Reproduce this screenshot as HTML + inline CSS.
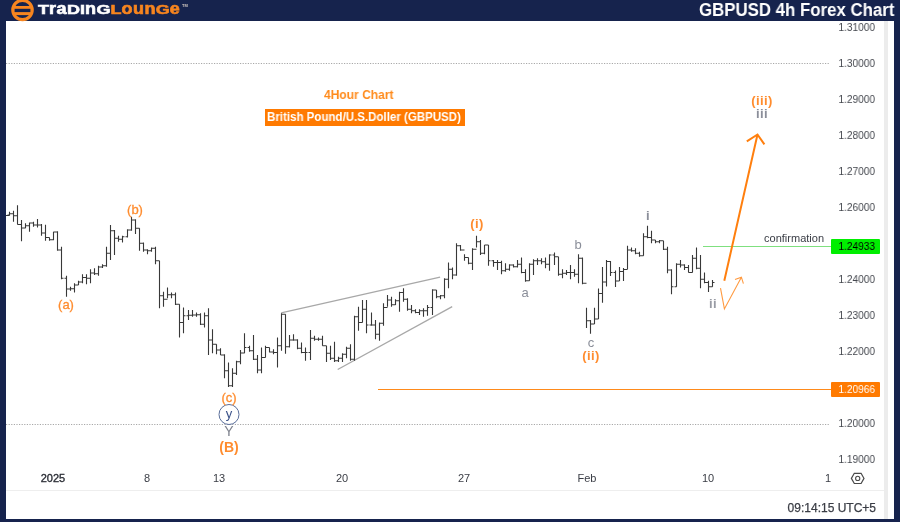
<!DOCTYPE html>
<html><head><meta charset="utf-8">
<style>
*{margin:0;padding:0;box-sizing:border-box}
html,body{width:900px;height:522px;overflow:hidden;background:#16234d;font-family:"Liberation Sans",sans-serif}
body>div{will-change:transform}
#panel{position:absolute;left:6px;top:21px;width:888px;height:498px;background:#fff}
#strip{position:absolute;left:884px;top:21px;width:4px;height:498px;background:#ececec}
#sep{position:absolute;left:6px;top:490px;width:878px;height:1px;background:#eeeeee}
.abs{position:absolute}
.pl{position:absolute;left:800px;width:75px;text-align:right;font-size:11px;color:#44474e;line-height:14px;transform:scaleX(0.92);transform-origin:75px 0}
.tl{position:absolute;top:471px;width:60px;text-align:center;font-size:11px;color:#3a3d45;line-height:14px}
.tl.b{-webkit-text-stroke:0.35px currentColor;color:#2a2d35}
#title{position:absolute;left:699px;top:0px;font-size:18px;font-weight:bold;color:#fff;line-height:20px;white-space:nowrap;transform:scaleX(0.935);transform-origin:0 0}
#logo{position:absolute;left:38px;top:3px;font-size:12px;font-weight:bold;color:#fff;line-height:14px;white-space:nowrap;transform:scaleX(1.5);transform-origin:0 0;-webkit-text-stroke:0.5px currentColor}
#logo span{color:#f7851f}
#logo i{font-style:normal;display:inline-block;transform:scaleY(1.3);transform-origin:0 11px;letter-spacing:0.3px}
.lbl{position:absolute;text-align:center;width:60px;font-size:13px;line-height:14px;font-weight:bold;letter-spacing:0.4px}
.or{color:#ff8c2e}
.gr{color:#8a8e99}
.nw{font-weight:normal;letter-spacing:0}
.sb{-webkit-text-stroke:0.3px currentColor}
</style></head><body>
<div id="panel"></div>
<div id="strip"></div>
<div id="sep"></div>
<svg class="abs" style="left:0;top:0" width="900" height="22">
  <circle cx="22.5" cy="10" r="9.7" fill="none" stroke="#f7851f" stroke-width="3.2"/>
  <rect x="13" y="6" width="19" height="9.1" fill="#f7851f"/>
  <rect x="14.6" y="8.8" width="15.8" height="3.3" fill="#16234d"/>
</svg>
<div id="logo">T<i>r</i><i>a</i>DI<i>n</i>G<span>L<i>o</i><i>u</i><i>n</i>G<i>e</i></span></div><div class="abs" style="left:182px;top:4px;font-size:4px;line-height:4px;color:#d0c8c0;font-weight:bold">TM</div>
<div id="title">GBPUSD 4h Forex Chart</div>
<div class="pl" style="top:20px">1.31000</div><div class="pl" style="top:56px">1.30000</div><div class="pl" style="top:92px">1.29000</div><div class="pl" style="top:128px">1.28000</div><div class="pl" style="top:164px">1.27000</div><div class="pl" style="top:200px">1.26000</div><div class="pl" style="top:272px">1.24000</div><div class="pl" style="top:308px">1.23000</div><div class="pl" style="top:344px">1.22000</div><div class="pl" style="top:416px">1.20000</div><div class="pl" style="top:452px">1.19000</div>
<div class="tl b" style="left:23px">2025</div><div class="tl" style="left:117px">8</div><div class="tl" style="left:189px">13</div><div class="tl" style="left:312px">20</div><div class="tl" style="left:434px">27</div><div class="tl" style="left:557px">Feb</div><div class="tl" style="left:678px">10</div><div class="tl" style="left:798px">1</div>
<svg class="abs" style="left:0;top:0" width="900" height="522">
  <line x1="6" y1="63.5" x2="829" y2="63.5" stroke="#a8a8a8" stroke-width="1" stroke-dasharray="1.2 1.4"/>
  <line x1="6" y1="424.5" x2="829" y2="424.5" stroke="#a8a8a8" stroke-width="1" stroke-dasharray="1.2 1.4"/>
  <line x1="703" y1="246.5" x2="831" y2="246.5" stroke="#7fe07f" stroke-width="1"/>
  <line x1="378" y1="389.5" x2="831" y2="389.5" stroke="#ff8a1a" stroke-width="1"/>
  <line x1="281.2" y1="312.9" x2="440.1" y2="277.2" stroke="#a8a8a8" stroke-width="1.3"/>
  <line x1="337.7" y1="369.5" x2="452.2" y2="306.6" stroke="#a8a8a8" stroke-width="1.3"/>
  <path d="M6 215.5H9M9.5 211.7V215.8M7.5 215H9.5M9.5 213.7H11.5M13.5 210.8V221.7M11.5 213.7H13.5M13.5 215.8H15.5M17.5 205.3V224.5M15.5 215.8H17.5M17.5 224.5H19.5M21.5 220V241.3M19.5 224.5H21.5M21.5 228H23.5M25.5 223.3V228.3M23.5 228H25.5M25.5 225.8H27.5M29.5 222.5V231.7M27.5 225.8H29.5M29.5 223H31.5M33.5 221.7V226.7M31.5 223H33.5M33.5 225H35.5M37.5 219V227.5M35.5 225H37.5M37.5 225H39.5M41.5 224V235.8M39.5 225H41.5M41.5 233H43.5M45.5 224.7V240.8M43.5 233H45.5M45.5 237.5H47.5M49.5 237.5V240.8M47.5 237.5H49.5M49.5 239.7H51.5M53.5 231.7V240.3M51.5 239.7H53.5M53.5 232H55.5M57.5 231.3V250.8M55.5 232H57.5M57.5 250H59.5M61.5 246.7V279.2M59.5 250H61.5M61.5 278.3H63.5M66.5 275.8V296.7M64.5 278.3H66.5M66.5 289H68.5M70.5 286.7V290.8M68.5 289H70.5M70.5 288.7H72.5M74.5 283.3V292.5M72.5 288.7H74.5M74.5 285H76.5M78.5 280.8V285M76.5 285H78.5M78.5 282H80.5M82.5 274.2V283.3M80.5 282H82.5M82.5 277.5H84.5M86.5 274.2V284.2M84.5 277.5H86.5M86.5 278.3H88.5M90.5 269.2V283.3M88.5 278.3H90.5M90.5 273H92.5M94.5 268.3V275M92.5 273H94.5M94.5 273.7H96.5M98.5 265.8V275.8M96.5 273.7H98.5M98.5 267H100.5M102.5 264.2V268M100.5 267H102.5M102.5 265.8H104.5M106.5 246.7V266.7M104.5 265.8H106.5M106.5 253.3H108.5M110.5 225V260M108.5 253.3H110.5M110.5 230.8H112.5M114.5 230V255M112.5 230.8H114.5M114.5 238.3H116.5M118.5 235.8V241.7M116.5 238.3H118.5M118.5 239.2H120.5M122.5 235.8V242.5M120.5 239.2H122.5M122.5 236.7H124.5M127.5 229.2V237.5M125.5 236.7H127.5M127.5 230H129.5M131.5 216.7V230.8M129.5 230H131.5M131.5 220H133.5M135.5 219.2V234M133.5 220H135.5M135.5 228.3H137.5M139.5 228.3V250.8M137.5 228.3H139.5M139.5 243.3H141.5M143.5 242.5V251.7M141.5 243.3H143.5M143.5 250H145.5M147.5 249.2V254.2M145.5 250H147.5M147.5 250.8H149.5M151.5 247.5V251.7M149.5 250.8H151.5M151.5 248.3H153.5M155.5 246.7V264.2M153.5 248.3H155.5M155.5 260.8H157.5M159.5 260.8V308.3M157.5 260.8H159.5M159.5 295.8H161.5M163.5 291.7V306.7M161.5 295.8H163.5M163.5 299.2H165.5M167.5 287.5V298.3M165.5 299.2H167.5M167.5 294.7H169.5M171.5 292.5V298.3M169.5 294.7H171.5M171.5 294.7H173.5M175.5 292.5V305M173.5 294.7H175.5M175.5 304.2H177.5M179.5 304.2V337.5M177.5 304.2H179.5M179.5 322.5H181.5M183.5 307.5V333.3M181.5 322.5H183.5M183.5 315.8H185.5M188.5 310V320M186.5 315.8H188.5M188.5 315.3H190.5M192.5 310V316.7M190.5 315.3H192.5M192.5 315H194.5M196.5 312.5V316.7M194.5 315H196.5M196.5 314.7H198.5M200.5 313.3V325M198.5 314.7H200.5M200.5 324.2H202.5M204.5 312.5V327.5M202.5 324.2H204.5M204.5 315.8H206.5M208.5 308.3V355M206.5 315.8H208.5M208.5 340H210.5M212.5 329.2V353.3M210.5 340H212.5M212.5 344.2H214.5M216.5 344.2V354.2M214.5 344.2H216.5M216.5 350H218.5M220.5 348.3V355M218.5 350H220.5M220.5 355H222.5M224.5 354.2V378.3M222.5 355H224.5M224.5 370.8H226.5M228.5 362.5V387M226.5 370.8H228.5M228.5 385.8H230.5M232.5 368.3V387M230.5 385.8H232.5M232.5 373.3H234.5M236.5 360.8V375M234.5 373.3H236.5M236.5 361.7H238.5M240.5 350V364.2M238.5 361.7H240.5M240.5 353H242.5M244.5 333.3V353.3M242.5 353H244.5M244.5 347.5H246.5M249.5 345.8V351.7M247.5 347.5H249.5M249.5 350.8H251.5M253.5 335V360M251.5 350.8H253.5M253.5 359.2H255.5M257.5 355V373.3M255.5 359.2H257.5M257.5 370H259.5M261.5 347.5V373.3M259.5 370H261.5M261.5 357.5H263.5M265.5 345.8V357.5M263.5 357.5H265.5M265.5 347.5H267.5M269.5 347.5V352.5M267.5 347.5H269.5M269.5 352H271.5M273.5 349.2V354.2M271.5 352H273.5M273.5 352.5H275.5M277.5 337.5V367.5M275.5 352.5H277.5M277.5 345.8H279.5M281.5 313.3V350.8M279.5 345.8H281.5M281.5 314.2H283.5M285.5 314.2V353.7M283.5 314.2H285.5M285.5 346.7H287.5M289.5 335V347.5M287.5 346.7H289.5M289.5 340H291.5M293.5 334.2V340.8M291.5 340H293.5M293.5 340H295.5M297.5 339.2V349.2M295.5 340H297.5M297.5 348.3H299.5M301.5 342.5V353.3M299.5 348.3H301.5M301.5 352.5H303.5M305.5 347.5V360.8M303.5 352.5H305.5M305.5 352.5H307.5M310.5 330V360M308.5 352.5H310.5M310.5 338.3H312.5M314.5 335.8V340.8M312.5 338.3H314.5M314.5 339.2H316.5M318.5 337.5V340.8M316.5 339.2H318.5M318.5 339.2H320.5M322.5 335.8V345.8M320.5 339.2H322.5M322.5 345.8H324.5M326.5 345.8V362M324.5 345.8H326.5M326.5 353.3H328.5M330.5 345.8V360M328.5 353.3H330.5M330.5 358.3H332.5M334.5 341.7V362M332.5 358.3H334.5M334.5 360.8H336.5M338.5 356.7V362M336.5 360.8H338.5M338.5 358.3H340.5M342.5 353.3V362M340.5 358.3H342.5M342.5 354.2H344.5M346.5 346.7V358.3M344.5 354.2H346.5M346.5 348.3H348.5M350.5 344.2V360.8M348.5 348.3H350.5M350.5 359.2H352.5M354.5 315.8V360.8M352.5 359.2H354.5M354.5 316.7H356.5M358.5 306.7V330.8M356.5 316.7H358.5M358.5 322.5H360.5M362.5 300V322.5M360.5 322.5H362.5M362.5 309.2H364.5M366.5 300V333.3M364.5 309.2H366.5M366.5 325H368.5M371.5 312.5V325.8M369.5 325H371.5M371.5 325H373.5M375.5 320V339.2M373.5 325H375.5M375.5 334.2H377.5M379.5 322.5V340.8M377.5 334.2H379.5M379.5 323.3H381.5M383.5 303.3V325.8M381.5 323.3H383.5M383.5 307.5H385.5M387.5 295V306.7M385.5 307.5H387.5M387.5 300H389.5M391.5 296.7V306.7M389.5 300H391.5M391.5 304.7H393.5M395.5 299.2V305M393.5 304.7H395.5M395.5 300.8H397.5M399.5 291.7V311.7M397.5 300.8H399.5M399.5 292.5H401.5M403.5 288.3V301.7M401.5 292.5H403.5M403.5 299.2H405.5M407.5 298.3V310.8M405.5 299.2H407.5M407.5 309.2H409.5M411.5 305V313.3M409.5 309.2H411.5M411.5 310.8H413.5M415.5 309.2V313.3M413.5 310.8H415.5M415.5 312.5H417.5M419.5 309.2V315M417.5 312.5H419.5M419.5 310.8H421.5M423.5 308.3V316.7M421.5 310.8H423.5M423.5 310.8H425.5M427.5 305V315.8M425.5 310.8H427.5M427.5 307.5H429.5M432.5 289.2V315M430.5 307.5H432.5M432.5 290H434.5M436.5 290V298.3M434.5 290H436.5M436.5 296.7H438.5M440.5 295V299.2M438.5 296.7H440.5M440.5 295.8H442.5M444.5 278.3V298.3M442.5 295.8H444.5M444.5 279.2H446.5M448.5 262.5V288.3M446.5 279.2H448.5M448.5 269.2H450.5M452.5 267.5V279.2M450.5 269.2H452.5M452.5 275H454.5M456.5 243.3V275.8M454.5 275H456.5M456.5 245.8H458.5M460.5 245V250.8M458.5 245.8H460.5M460.5 250H462.5M464.5 254.2V260.8M462.5 250H464.5M464.5 257.5H466.5M468.5 257.5V264.2M466.5 257.5H468.5M468.5 263.3H470.5M472.5 248.3V270M470.5 263.3H472.5M472.5 249.2H474.5M476.5 235.8V247.5M474.5 249.2H476.5M476.5 241.7H478.5M480.5 240V255M478.5 241.7H480.5M480.5 253.3H482.5M484.5 245V254.2M482.5 253.3H484.5M484.5 245H486.5M488.5 245V265.8M486.5 245H488.5M488.5 260.8H490.5M493.5 260V266.7M491.5 260.8H493.5M493.5 262.5H495.5M497.5 260V270M495.5 262.5H497.5M497.5 262.5H499.5M501.5 260.8V274.2M499.5 262.5H501.5M501.5 270.8H503.5M505.5 263.3V271.7M503.5 270.8H505.5M505.5 269.2H507.5M509.5 264.2V270.8M507.5 269.2H509.5M509.5 265H511.5M513.5 264.2V267.5M511.5 265H513.5M513.5 266.7H515.5M517.5 260V267.5M515.5 266.7H517.5M517.5 264.2H519.5M521.5 257.5V273.3M519.5 264.2H521.5M521.5 272.5H523.5M525.5 269.2V281.7M523.5 272.5H525.5M525.5 280.8H527.5M529.5 263.3V280.8M527.5 280.8H529.5M529.5 264.2H531.5M533.5 259.2V275M531.5 264.2H533.5M533.5 260.8H535.5M537.5 258.3V265M535.5 260.8H537.5M537.5 260.8H539.5M541.5 258.3V264.2M539.5 260.8H541.5M541.5 261.7H543.5M545.5 257.5V268.3M543.5 261.7H545.5M545.5 264.2H547.5M549.5 254.2V270.8M547.5 264.2H549.5M549.5 255H551.5M554.5 252.5V265M552.5 255H554.5M554.5 256.7H556.5M558.5 256.7V275.8M556.5 256.7H558.5M558.5 274.2H560.5M562.5 269.2V278.3M560.5 274.2H562.5M562.5 273.3H564.5M566.5 270V275M564.5 273.3H566.5M566.5 272.5H568.5M570.5 265V279.2M568.5 272.5H570.5M570.5 272.5H572.5M574.5 269.2V276.7M572.5 272.5H574.5M574.5 274.2H576.5M578.5 254.2V283.3M576.5 274.2H578.5M578.5 258.3H580.5M582.5 257.5V284.2M580.5 258.3H582.5M582.5 283.3H584.5M586.5 307.7V328M584.5 283.3H586.5M586.5 320.8H588.5M590.5 320V333.8M588.5 320.8H590.5M590.5 324H592.5M594.5 307.7V324M592.5 324H594.5M594.5 319H596.5M598.5 288.5V319M596.5 319H598.5M598.5 293.5H600.5M602.5 267V302.8M600.5 293.5H602.5M602.5 282H604.5M606.5 260V286.5M604.5 282H606.5M606.5 261.5H608.5M610.5 261V276M608.5 261.5H610.5M610.5 272.5H612.5M615.5 270.5V287M613.5 272.5H615.5M615.5 281H617.5M619.5 267V281M617.5 281H619.5M619.5 271.5H621.5M623.5 268V281M621.5 271.5H623.5M623.5 269.5H625.5M627.5 245.8V269.2M625.5 269.5H627.5M627.5 250H629.5M631.5 247.5V251.7M629.5 250H631.5M631.5 250.8H633.5M635.5 248.3V254.2M633.5 250.8H635.5M635.5 253.3H637.5M639.5 251.7V256.7M637.5 253.3H639.5M639.5 255.8H641.5M643.5 233.3V255.8M641.5 255.8H643.5M643.5 236.7H645.5M647.5 225.8V238.3M645.5 236.7H647.5M647.5 237.5H649.5M651.5 230.8V243.3M649.5 237.5H651.5M651.5 240H653.5M655.5 240V243.3M653.5 240H655.5M655.5 241.7H657.5M659.5 240V243.3M657.5 241.7H659.5M659.5 240.8H661.5M663.5 240.8V250M661.5 240.8H663.5M663.5 249.2H665.5M667.5 246.7V273.3M665.5 249.2H667.5M667.5 270H669.5M671.5 269.2V294.2M669.5 270H671.5M671.5 286.7H673.5M676.5 263.3V286.7M674.5 286.7H676.5M676.5 264.2H678.5M680.5 260V267.5M678.5 264.2H680.5M680.5 265H682.5M684.5 264.2V270M682.5 265H684.5M684.5 267.5H686.5M688.5 265V272.5M686.5 267.5H688.5M688.5 272.5H690.5M692.5 255V272.5M690.5 272.5H692.5M692.5 258.3H694.5M696.5 247.5V269.2M694.5 258.3H696.5M696.5 268.3H698.5M700.5 255V288.3M698.5 268.3H700.5M700.5 279.2H702.5M704.5 272.5V283.3M702.5 279.2H704.5M704.5 282.5H706.5M708.5 280.8V292M706.5 282.5H708.5M708.5 286.7H710.5M712.5 280V286.7M710.5 286.7H712.5M712.5 282.5H714.5" fill="none" stroke="#383838" stroke-width="1.1"/>
  <path d="M724.3 280.7L757.5 134.5M746.8 141.3L757.5 134.5L764.4 144.4" fill="none" stroke="#ff7f0e" stroke-width="2"/>
  <path d="M720.5 288.2L724.4 308.9L741.4 277.2M735 279.5L741.4 277.2L743.4 283.6" fill="none" stroke="#ff9a40" stroke-width="1.1"/>
  <circle cx="229" cy="414.5" r="10" fill="#fff" stroke="#5a6e9a" stroke-width="1"/>
  <rect x="831" y="239" width="49" height="15" rx="1" fill="#00ee00"/>
  <rect x="831" y="382" width="49" height="15" rx="1" fill="#ff7a00"/>
  <path d="M851.4 478.4L854.3 473.3H861.1L864 478.4L861.1 483.5H854.3Z" fill="none" stroke="#4a4a4a" stroke-width="1.2"/>
  <circle cx="857.7" cy="478.4" r="2.1" fill="none" stroke="#4a4a4a" stroke-width="1.1"/>
</svg>
<div class="pl" style="top:239px;line-height:15px;color:#000">1.24933</div>
<div class="pl" style="top:382px;line-height:15px;color:#fff">1.20966</div>
<div class="abs" style="left:744px;top:231px;width:80px;text-align:right;font-size:11px;line-height:14px;color:#3a3d45">confirmation</div>
<div class="abs" style="left:324px;top:87px;font-size:13px;font-weight:bold;line-height:15px;color:#ff8a1a;white-space:nowrap;transform:scaleX(0.925);transform-origin:0 0">4Hour Chart</div>
<div class="abs" style="left:265px;top:109px;width:200px;height:17px;background:#ff7a00"></div><div class="abs" style="left:267px;top:109px;font-size:12px;font-weight:bold;line-height:17px;color:#fff;white-space:nowrap;transform:scaleX(0.96);transform-origin:0 0">British Pound/U.S.Doller (GBPUSD)</div>
<div class="lbl or nw sb" style="left:105px;top:203px">(b)</div>
<div class="lbl or nw sb" style="left:36px;top:298px">(a)</div>
<div class="lbl or nw sb" style="left:199px;top:391px">(c)</div>
<div class="lbl nw" style="left:199px;top:407px;color:#3b5289">y</div>
<div class="lbl gr nw" style="left:199px;top:424px;font-size:14px;color:#7d818c">Y</div>
<div class="lbl or" style="left:199px;top:440px;font-size:14px;letter-spacing:0">(B)</div>
<div class="lbl or" style="left:447px;top:217px">(i)</div>
<div class="lbl gr nw" style="left:495px;top:286px">a</div>
<div class="lbl gr nw" style="left:548px;top:238px">b</div>
<div class="lbl gr nw" style="left:561px;top:336px">c</div>
<div class="lbl or" style="left:561px;top:349px">(ii)</div>
<div class="lbl gr" style="left:618px;top:209px">i</div>
<div class="lbl gr" style="left:683px;top:297px;color:#989ba4">ii</div>
<div class="lbl or" style="left:732px;top:94px">(iii)</div>
<div class="lbl gr" style="left:732px;top:107px">iii</div>
<div class="abs" style="left:760px;top:501px;width:116px;text-align:right;font-size:12px;line-height:14px;color:#3a3d45;-webkit-text-stroke:0.25px currentColor">09:14:15 UTC+5</div>
</body></html>
